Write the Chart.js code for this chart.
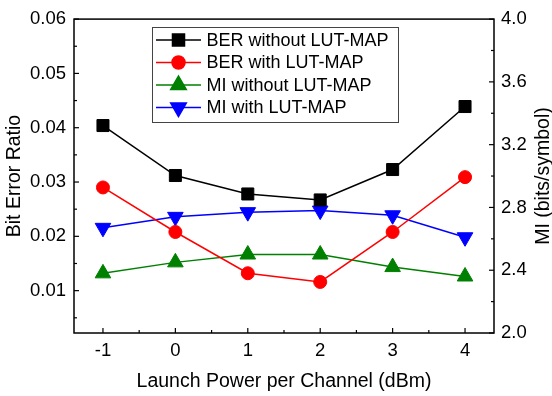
<!DOCTYPE html>
<html><head><meta charset="utf-8">
<script src="https://cdn.jsdelivr.net/npm/chart.js@4/dist/chart.umd.min.js"></script>
<style>html,body{margin:0;padding:0;background:#fff}#wrap{width:552px;height:396px}</style>
</head><body><div id="wrap"><canvas id="c" width="552" height="396"></canvas></div>
<script>
const launchPower = [-1, 0, 1, 2, 3, 4];
const berWithout = [0.0404, 0.0312, 0.0278, 0.0267, 0.0323, 0.0439];
const berWith = [0.0290, 0.0208, 0.0132, 0.0116, 0.0208, 0.0309];
const miWithout = [2.38, 2.45, 2.50, 2.50, 2.42, 2.36];
const miWith = [2.67, 2.74, 2.77, 2.78, 2.75, 2.61];
const xTickValues = [-1, 0, 1, 2, 3, 4];
const berTickValues = [0.01, 0.02, 0.03, 0.04, 0.05, 0.06];
const miTickValues = [2.0, 2.4, 2.8, 3.2, 3.6, 4.0];
const seriesLabels = ['BER without LUT-MAP', 'BER with LUT-MAP', 'MI without LUT-MAP', 'MI with LUT-MAP'];

const FONT = 'Arial, "Liberation Sans", sans-serif';
const pts = arr => launchPower.map((x, i) => ({x: x, y: arr[i]}));

function ds(label, data, axis, color, style, radius, rotation) {
  return {label, data: pts(data), yAxisID: axis, borderColor: color, backgroundColor: color,
    pointStyle: style, pointRadius: radius, pointHoverRadius: radius, pointRotation: rotation || 0,
    borderWidth: 1.5, pointBorderWidth: 1, pointBorderColor: color, tension: 0, fill: false};
}

function minorOf(majors, min, max) {
  const out = [];
  const step = majors[1] - majors[0];
  const all = [majors[0] - step].concat(majors, [majors[majors.length - 1] + step]);
  for (let i = 0; i < all.length - 1; i++) {
    const m = (all[i] + all[i + 1]) / 2;
    if (m > min && m < max) out.push(m);
  }
  return out;
}

const framePlugin = {
  id: 'frame',
  afterDraw(chart) {
    const {ctx, chartArea: a, scales} = chart;
    ctx.save();
    ctx.strokeStyle = '#000';
    ctx.lineWidth = 1.5;
    ctx.strokeRect(a.left, a.top, a.right - a.left, a.bottom - a.top);
    ctx.lineWidth = 1.2;
    const drawT = (scale, vals, len) => {
      vals.forEach(v => {
        const p = scale.getPixelForValue(v);
        ctx.beginPath();
        if (scale.id === 'x') { ctx.moveTo(p, a.bottom); ctx.lineTo(p, a.bottom - len); }
        else if (scale.id === 'y') { ctx.moveTo(a.left, p); ctx.lineTo(a.left + len, p); }
        else { ctx.moveTo(a.right, p); ctx.lineTo(a.right - len, p); }
        ctx.stroke();
      });
    };
    const sx = scales.x, sy = scales.y, sy2 = scales.y2;
    drawT(sx, xTickValues, 5); drawT(sx, minorOf(xTickValues, sx.min, sx.max), 3);
    drawT(sy, berTickValues, 5); drawT(sy, minorOf(berTickValues, sy.min, sy.max), 3);
    drawT(sy2, miTickValues, 5); drawT(sy2, minorOf(miTickValues, sy2.min, sy2.max), 3);

    // right axis title (reads bottom to top)
    ctx.fillStyle = '#000';
    ctx.font = '19.5px ' + FONT;
    ctx.textAlign = 'center';
    ctx.textBaseline = 'middle';
    ctx.translate(543.5, (a.top + a.bottom) / 2);
    ctx.rotate(-Math.PI / 2);
    ctx.fillText('MI (bits/symbol)', 0, 0);
    ctx.restore();

    // legend
    ctx.save();
    const bx = 152, by = 27, bw = 246, bh = 95;
    ctx.fillStyle = '#fff';
    ctx.fillRect(bx, by, bw, bh);
    ctx.strokeStyle = '#444';
    ctx.lineWidth = 1;
    ctx.strokeRect(bx + 0.5, by + 0.5, bw, bh);
    chart.data.datasets.forEach((d, i) => {
      const y = 40 + i * 22.5;
      ctx.strokeStyle = d.borderColor;
      ctx.lineWidth = 1.5;
      ctx.beginPath(); ctx.moveTo(156, y); ctx.lineTo(201, y); ctx.stroke();
      ctx.fillStyle = d.backgroundColor;
      Chart.helpers.drawPoint(ctx, {pointStyle: d.pointStyle, rotation: d.pointRotation, radius: d.pointRadius, borderWidth: 1}, 178.5, y);
      ctx.fillStyle = '#000';
      ctx.font = '18px ' + FONT;
      ctx.textAlign = 'left';
      ctx.textBaseline = 'middle';
      ctx.fillText(seriesLabels[i], 206.5, y + 1);
    });
    ctx.restore();
  }
};

const tickFont = {family: FONT, size: 18.5};
const titleFont = {family: FONT, size: 19.5};

new Chart(document.getElementById('c'), {
  type: 'line',
  data: {
    datasets: [
      ds(seriesLabels[0], berWithout, 'y', '#000000', 'rect', 8.5),
      ds(seriesLabels[1], berWith, 'y', '#ff0000', 'circle', 6.5),
      ds(seriesLabels[2], miWithout, 'y2', '#008000', 'triangle', 9),
      ds(seriesLabels[3], miWith, 'y2', '#0000ff', 'triangle', 9, 180)
    ]
  },
  options: {
    responsive: false, animation: false, devicePixelRatio: 1,
    layout: {padding: {top: 16, left: 0, right: 0, bottom: 0}},
    plugins: {legend: {display: false}, tooltip: {enabled: false}},
    scales: {
      x: {
        type: 'linear', position: 'bottom', min: -1.4, max: 4.4,
        afterBuildTicks: s => { s.ticks = xTickValues.map(v => ({value: v})); },
        afterFit: s => { s.height = 63; },
        grid: {display: false, drawTicks: false}, border: {display: false},
        ticks: {font: tickFont, color: '#000', padding: 7, callback: v => String(v)},
        title: {display: true, text: 'Launch Power per Channel (dBm)', font: titleFont, color: '#000', padding: {top: 2, bottom: 2.3}}
      },
      y: {
        type: 'linear', position: 'left', min: 0.0022, max: 0.06,
        afterBuildTicks: s => { s.ticks = berTickValues.map(v => ({value: v})); },
        afterFit: s => { s.width = 74; },
        grid: {display: false, drawTicks: false}, border: {display: false},
        ticks: {font: tickFont, color: '#000', padding: 8, callback: v => v.toFixed(2)},
        title: {display: true, text: 'Bit Error Ratio', font: titleFont, color: '#000', padding: {top: 3.3, bottom: 0}}
      },
      y2: {
        type: 'linear', position: 'right', min: 2.0, max: 4.0,
        afterBuildTicks: s => { s.ticks = miTickValues.map(v => ({value: v})); },
        afterFit: s => { s.width = 58; },
        grid: {display: false, drawTicks: false}, border: {display: false},
        ticks: {font: tickFont, color: '#000', padding: 7, callback: v => v.toFixed(1)},
        title: {display: false}
      }
    }
  },
  plugins: [framePlugin]
});
</script></body></html>
